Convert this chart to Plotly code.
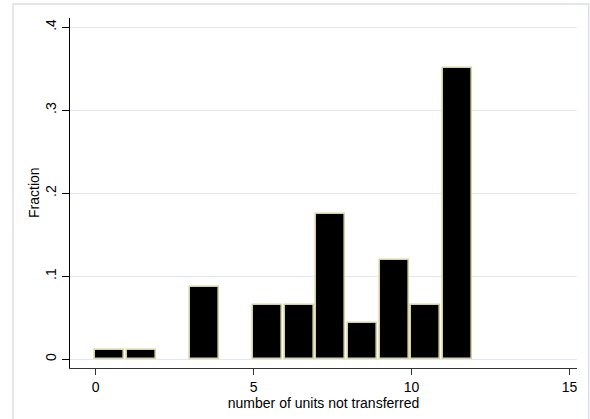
import plotly.graph_objects as go

# Histogram data (bin start, fraction)
bin_starts = [0, 1, 3, 5, 6, 7, 8, 9, 10, 11]
fractions = [0.011, 0.011, 0.087, 0.065, 0.065, 0.175, 0.044, 0.120, 0.065, 0.351]

x_ticks = [0, 5, 10, 15]
x_ticktext = ["0", "5", "10", "15"]
y_ticks = [0, 0.1, 0.2, 0.3, 0.4]
y_ticktext = ["0", ".1", ".2", ".3", ".4"]

bin_width = 1.0
centers = [s + 0.45 * bin_width for s in bin_starts]

fig = go.Figure()
fig.add_trace(go.Bar(
    x=centers,
    y=fractions,
    width=[0.92 * bin_width] * len(bin_starts),
    marker=dict(color="black", line=dict(color="#D6D1A3", width=1.6)),
    showlegend=False,
))

font_family = "Liberation Sans, Arial, sans-serif"

fig.update_layout(
    width=590, height=419,
    margin=dict(l=70, r=13, t=18, b=51),
    paper_bgcolor="white",
    plot_bgcolor="white",
    font=dict(family=font_family, size=14, color="black"),
    bargap=0,
    xaxis=dict(
        range=[-0.81, 15.24],
        tickvals=x_ticks, ticktext=x_ticktext,
        ticks="outside", ticklen=6, tickcolor="#333333", tickwidth=1,
        showline=True, linecolor="#333333", linewidth=1.3,
        showgrid=False, zeroline=False,
        title=dict(text="number of units not transferred", standoff=0,
                   font=dict(size=14)),
        tickfont=dict(size=14),
    ),
    yaxis=dict(
        range=[-0.0105, 0.411],
        tickvals=y_ticks, ticktext=y_ticktext,
        tickangle=-90,
        ticks="outside", ticklen=7, tickcolor="black", tickwidth=1,
        showline=True, linecolor="black", linewidth=1.3,
        showgrid=True, gridcolor="#E3E6F0", gridwidth=1.3,
        zeroline=False,
        tickfont=dict(size=14),
    ),
    annotations=[dict(
        text="Fraction", xref="paper", yref="paper",
        x=-0.071, y=0.5, xanchor="center", yanchor="middle",
        textangle=-90, showarrow=False, font=dict(size=14),
    )],
    shapes=[dict(
        type="rect", xref="paper", yref="paper",
        x0=-0.1124, x1=1.023, y0=-0.16, y1=1.04,
        line=dict(color="#DCDDE8", width=1.5),
        fillcolor="rgba(0,0,0,0)", layer="above",
    )],
)

fig.write_html(
    "out.html",
    config={"displayModeBar": False},
    post_script="document.body.style.margin='0';document.body.style.padding='0';",
)
